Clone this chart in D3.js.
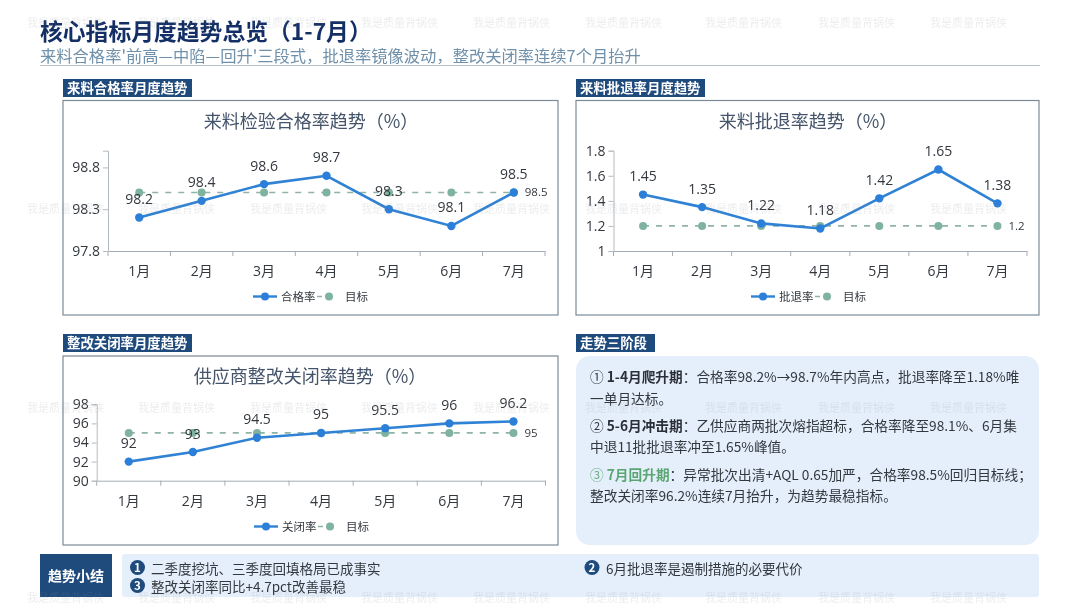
<!DOCTYPE html>
<html>
<head>
<meta charset="utf-8">
<script src="https://cdn.jsdelivr.net/npm/d3@7"></script>
<style>
  html, body { margin: 0; padding: 0; background: #fff; }
  svg { display: block; filter: blur(0.3px); }
  text { font-family: "Noto Sans CJK SC", "Noto Sans", sans-serif; }
</style>
</head>
<body>
<div id="chart"></div>
<script>
// Chart data
var months = ["1月", "2月", "3月", "4月", "5月", "6月", "7月"];
var passRate = [98.2, 98.4, 98.6, 98.7, 98.3, 98.1, 98.5];
var passTarget = [98.5, 98.5, 98.5, 98.5, 98.5, 98.5, 98.5];
var passTicks = [97.8, 98.3, 98.8];
var rejectRate = [1.45, 1.35, 1.22, 1.18, 1.42, 1.65, 1.38];
var rejectTarget = [1.2, 1.2, 1.2, 1.2, 1.2, 1.2, 1.2];
var rejectTicks = [1, 1.2, 1.4, 1.6, 1.8];
var closeRate = [92, 93, 94.5, 95, 95.5, 96, 96.2];
var closeTarget = [95, 95, 95, 95, 95, 95, 95];
var closeTicks = [90, 92, 94, 96, 98];

var width = 1080, height = 608;
var blue = "#2b7fd9", green = "#7fb39f", navy = "#1f4a7c";
var panelFill = "#e5effc", ink = "#33383e";

var svg = d3.select("#chart").append("svg")
    .attr("width", width)
    .attr("height", height)
    .attr("viewBox", [0, 0, width, height]);

// Page heading
svg.append("text").attr("x", 40).attr("y", 40)
    .attr("font-size", 22.8).attr("font-weight", 700).attr("fill", "#142f66")
    .text("核心指标月度趋势总览（1-7月）");
svg.append("text").attr("x", 40).attr("y", 62)
    .attr("font-size", 16.3).attr("fill", "#6f90aa")
    .text("来料合格率'前高—中陷—回升'三段式，批退率镜像波动，整改关闭率连续7个月抬升");
svg.append("line").attr("x1", 40).attr("x2", 1040).attr("y1", 65.5).attr("y2", 65.5)
    .attr("stroke", "#b9c0c6").attr("stroke-width", 1.2);

function sectionLabel(x, y, w, label) {
    svg.append("rect").attr("x", x).attr("y", y).attr("width", w).attr("height", 18).attr("fill", navy);
    svg.append("text").attr("x", x + 4).attr("y", y + 14)
        .attr("font-size", 13.4).attr("font-weight", 700).attr("fill", "#fff").text(label);
}

function drawTrend(o) {
    svg.append("rect")
        .attr("x", o.box[0]).attr("y", o.box[1])
        .attr("width", o.box[2] - o.box[0]).attr("height", o.box[3] - o.box[1])
        .attr("fill", "#fff").attr("stroke", "#7d8a96").attr("stroke-width", 1.2);

    svg.append("text")
        .attr("x", o.titleX).attr("y", o.box[1] + 27)
        .attr("text-anchor", "middle").attr("font-size", 18).attr("fill", "#44546a")
        .text(o.title);

    var x = d3.scaleBand().domain(months).range(o.xRange);
    var y = d3.scaleLinear().domain(o.domain).range(o.yRange);

    var g = svg.append("g");

    var xAxis = g.append("g")
        .attr("transform", `translate(0,${o.yRange[0]})`)
        .call(d3.axisBottom(x).tickSize(0).tickPadding(15));
    xAxis.select(".domain").attr("stroke", "#a4adb5");
    xAxis.selectAll("text").attr("font-size", 14).attr("fill", ink).style("font-family", '"Open Sans", "Noto Sans CJK SC"');
    // ticks sit on the band edges, not the centres
    xAxis.selectAll(".edge")
        .data(months.concat("end"))
        .join("line")
        .attr("class", "edge")
        .attr("x1", (d, i) => i < months.length ? x(d) : o.xRange[1])
        .attr("x2", (d, i) => i < months.length ? x(d) : o.xRange[1])
        .attr("y2", 5)
        .attr("stroke", "#a4adb5");

    var yAxis = g.append("g")
        .attr("transform", `translate(${o.xRange[0]},0)`)
        .call(d3.axisLeft(y).tickValues(o.ticks).tickSize(5).tickPadding(3).tickFormat(d => d));
    yAxis.selectAll("path,line").attr("stroke", "#b4bbc2");
    yAxis.selectAll("text").attr("font-size", 14).attr("fill", ink).style("font-family", '"Open Sans"');

    var line = d3.line().x((d, i) => x(months[i]) + x.bandwidth() / 2).y(d => y(d));

    // target
    g.append("path").attr("d", line(o.target))
        .attr("fill", "none").attr("stroke", "#8fb3a6").attr("stroke-width", 1.7).attr("stroke-dasharray", "6,7");
    g.selectAll(".target").data(o.target).join("circle")
        .attr("class", "target")
        .attr("cx", (d, i) => x(months[i]) + x.bandwidth() / 2)
        .attr("cy", d => y(d))
        .attr("r", 4).attr("fill", green);

    // actual
    g.append("path").attr("d", line(o.values))
        .attr("fill", "none").attr("stroke", "#2f82d4").attr("stroke-width", 2.6);
    g.selectAll(".point").data(o.values).join("circle")
        .attr("class", "point")
        .attr("cx", (d, i) => x(months[i]) + x.bandwidth() / 2)
        .attr("cy", d => y(d))
        .attr("r", 4.2).attr("fill", blue);

    g.selectAll(".value").data(o.values).join("text")
        .attr("class", "value")
        .attr("x", (d, i) => x(months[i]) + x.bandwidth() / 2)
        .attr("y", d => y(d) - 13.5)
        .attr("text-anchor", "middle").attr("font-size", 14).attr("fill", ink)
        .style("font-family", '"Open Sans"')
        .text(d => d);

    g.append("text")
        .attr("x", x(months[6]) + x.bandwidth() / 2 + 11)
        .attr("y", y(o.target[6]) + 4)
        .attr("font-size", 11.5).attr("fill", ink)
        .style("font-family", '"Open Sans"')
        .text(o.target[6]);

    // legend
    var ly = o.box[3] - 18.5, lx = o.legendX;
    g.append("line").attr("x1", lx).attr("x2", lx + 24).attr("y1", ly).attr("y2", ly)
        .attr("stroke", "#2f82d4").attr("stroke-width", 2.4);
    g.append("circle").attr("cx", lx + 12).attr("cy", ly).attr("r", 4).attr("fill", blue);
    g.append("text").attr("x", lx + 28).attr("y", ly + 4.5)
        .attr("font-size", 11.5).attr("fill", ink).text(o.name);
    g.append("line").attr("x1", lx + 64).attr("x2", lx + 82).attr("y1", ly).attr("y2", ly)
        .attr("stroke", "#8fb3a6").attr("stroke-width", 1.7).attr("stroke-dasharray", "5,5");
    g.append("circle").attr("cx", lx + 76).attr("cy", ly).attr("r", 4).attr("fill", green);
    g.append("text").attr("x", lx + 92).attr("y", ly + 4.5)
        .attr("font-size", 11.5).attr("fill", ink).text("目标");
}

sectionLabel(63, 79, 129, "来料合格率月度趋势");
drawTrend({
    box: [63, 100.5, 558, 315], title: "来料检验合格率趋势（%）", titleX: 311,
    xRange: [108, 545], yRange: [251, 150.7], domain: [97.8, 99],
    ticks: passTicks, values: passRate, target: passTarget, name: "合格率", legendX: 253
});

sectionLabel(576, 79, 129, "来料批退率月度趋势");
drawTrend({
    box: [576, 100.5, 1039, 315], title: "来料批退率趋势（%）", titleX: 808,
    xRange: [613.5, 1027], yRange: [251, 150.7], domain: [1, 1.8],
    ticks: rejectTicks, values: rejectRate, target: rejectTarget, name: "批退率", legendX: 751
});

sectionLabel(63, 334, 129, "整改关闭率月度趋势");
drawTrend({
    box: [63, 356, 558, 545], title: "供应商整改关闭率趋势（%）", titleX: 310,
    xRange: [96.7, 545.5], yRange: [480.7, 404.3], domain: [90, 98],
    ticks: closeTicks, values: closeRate, target: closeTarget, name: "关闭率", legendX: 254
});

// Three stages panel
sectionLabel(576, 334, 79, "走势三阶段");
svg.append("rect").attr("x", 576).attr("y", 356).attr("width", 463).attr("height", 189)
    .attr("rx", 14).attr("fill", panelFill);

var stageLines = [
    [["① ", "#33383e", 400], ["1-4月爬升期", "#2b3038", 700], ["：合格率98.2%→98.7%年内高点，批退率降至1.18%唯", ink, 400]],
    [["一单月达标。", ink, 400]],
    [["② ", "#33383e", 400], ["5-6月冲击期", "#2b3038", 700], ["：乙供应商两批次熔指超标，合格率降至98.1%、6月集", ink, 400]],
    [["中退11批批退率冲至1.65%峰值。", ink, 400]],
    [["③ ", "#6fae85", 400], ["7月回升期", "#5aa672", 700], ["：异常批次出清+AQL 0.65加严，合格率98.5%回归目标线；", ink, 400]],
    [["整改关闭率96.2%连续7月抬升，为趋势最稳指标。", ink, 400]]
];
var stageY = [382, 403.5, 431, 452, 480, 501];
stageLines.forEach(function(parts, i) {
    var t = svg.append("text").attr("x", 590).attr("y", stageY[i]).attr("font-size", 13.7);
    parts.forEach(function(p) {
        t.append("tspan").attr("fill", p[1]).attr("font-weight", p[2]).text(p[0]);
    });
});

// Summary strip
svg.append("rect").attr("x", 40).attr("y", 554).attr("width", 72).attr("height", 43).attr("fill", navy);
svg.append("text").attr("x", 76).attr("y", 581).attr("text-anchor", "middle")
    .attr("font-size", 14).attr("font-weight", 700).attr("fill", "#fff").text("趋势小结");
svg.append("rect").attr("x", 122).attr("y", 554).attr("width", 917).attr("height", 43)
    .attr("rx", 3).attr("fill", panelFill);

var badges = [["1", 137.5, 567.5], ["2", 592, 567.5], ["3", 137.5, 585.5]];
svg.selectAll(".badge").data(badges).join("circle")
    .attr("class", "badge").attr("cx", d => d[1]).attr("cy", d => d[2]).attr("r", 7.5).attr("fill", navy);
svg.selectAll(".badgeNum").data(badges).join("text")
    .attr("class", "badgeNum").attr("x", d => d[1]).attr("y", d => d[2] + 4)
    .attr("text-anchor", "middle").attr("font-size", 11.5).attr("font-weight", 700).attr("fill", "#fff")
    .text(d => d[0]);

var notes = [["二季度挖坑、三季度回填格局已成事实", 151, 574], ["6月批退率是遏制措施的必要代价", 606, 574], ["整改关闭率同比+4.7pct改善最稳", 151, 592]];
svg.selectAll(".note").data(notes).join("text")
    .attr("class", "note").attr("x", d => d[1]).attr("y", d => d[2])
    .attr("font-size", 13.5).attr("fill", ink).text(d => d[0]);

// Watermark
var wmX = [27, 138, 250, 361, 473, 585, 705, 818, 930];
var wmY = [27, 213, 412, 602];
wmY.forEach(function(yy) {
    svg.append("g").selectAll("text").data(wmX).join("text")
        .attr("x", d => d).attr("y", yy)
        .attr("font-size", 11).attr("fill", "#8a8f96").attr("opacity", 0.16)
        .text("我是质量背锅侠");
});
</script>
</body>
</html>
